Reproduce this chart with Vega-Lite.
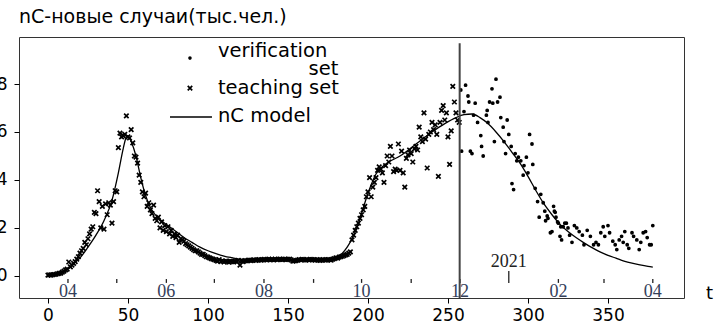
{
  "$schema": "https://vega.github.io/schema/vega-lite/v6.json",
  "autosize": {"type": "none"},
  "width": 665,
  "height": 261,
  "padding": {"left": 19, "top": 37, "right": 33, "bottom": 23},
  "background": "white",
  "config": {
    "view": {"stroke": "#333333", "strokeWidth": 1},
    "font": "DejaVu Sans",
    "axis": {"grid": false, "domain": false, "tickColor": "black", "tickSize": 5, "tickWidth": 1, "labelFont": "DejaVu Sans", "labelFontSize": 17, "labelColor": "black", "labelPadding": 4}
  },
  "title": {"text": "nC-новые случаи(тыс.чел.)", "anchor": "start", "frame": "group", "dx": 0, "dy": 16, "offset": 11, "fontSize": 19, "fontWeight": "normal", "font": "DejaVu Sans", "color": "black", "baseline": "alphabetic"},
  "datasets": {
    "obs": [
      {"t":0,"n":0.03,"set":"teaching set"},{"t":1,"n":0.04,"set":"teaching set"},{"t":2,"n":0.03,"set":"teaching set"},{"t":3,"n":0.05,"set":"teaching set"},{"t":4,"n":0.06,"set":"teaching set"},{"t":5,"n":0.07,"set":"teaching set"},{"t":6,"n":0.09,"set":"teaching set"},{"t":7,"n":0.11,"set":"teaching set"},{"t":8,"n":0.12,"set":"teaching set"},{"t":9,"n":0.16,"set":"teaching set"},
      {"t":10,"n":0.2,"set":"teaching set"},{"t":11,"n":0.25,"set":"teaching set"},{"t":12,"n":0.28,"set":"teaching set"},{"t":13,"n":0.58,"set":"teaching set"},{"t":14,"n":0.38,"set":"teaching set"},{"t":15,"n":0.45,"set":"teaching set"},{"t":16,"n":0.52,"set":"teaching set"},{"t":17,"n":0.6,"set":"teaching set"},{"t":18,"n":0.7,"set":"teaching set"},{"t":19,"n":0.8,"set":"teaching set"},
      {"t":20,"n":0.95,"set":"teaching set"},{"t":21,"n":1.05,"set":"teaching set"},{"t":22,"n":1.15,"set":"teaching set"},{"t":23,"n":1.4,"set":"teaching set"},{"t":24,"n":1.3,"set":"teaching set"},{"t":25,"n":1.55,"set":"teaching set"},{"t":26,"n":1.75,"set":"teaching set"},{"t":27,"n":1.95,"set":"teaching set"},{"t":28,"n":2.05,"set":"teaching set"},{"t":29,"n":2.65,"set":"teaching set"},
      {"t":30,"n":2.6,"set":"teaching set"},{"t":31,"n":3.55,"set":"teaching set"},{"t":32,"n":3.1,"set":"teaching set"},{"t":33,"n":2.0,"set":"teaching set"},{"t":34,"n":2.9,"set":"teaching set"},{"t":35,"n":1.95,"set":"teaching set"},{"t":36,"n":3.0,"set":"teaching set"},{"t":37,"n":2.55,"set":"teaching set"},{"t":38,"n":3.05,"set":"teaching set"},{"t":39,"n":2.95,"set":"teaching set"},
      {"t":40,"n":2.2,"set":"teaching set"},{"t":41,"n":3.1,"set":"teaching set"},{"t":42,"n":3.55,"set":"teaching set"},{"t":43,"n":3.5,"set":"teaching set"},{"t":44,"n":5.35,"set":"teaching set"},{"t":45,"n":5.95,"set":"teaching set"},{"t":46,"n":5.8,"set":"teaching set"},{"t":47,"n":5.85,"set":"teaching set"},{"t":48,"n":5.9,"set":"teaching set"},{"t":49,"n":6.67,"set":"teaching set"},
      {"t":50,"n":5.8,"set":"teaching set"},{"t":51,"n":5.75,"set":"teaching set"},{"t":52,"n":6.1,"set":"teaching set"},{"t":53,"n":5.55,"set":"teaching set"},{"t":54,"n":5.0,"set":"teaching set"},{"t":55,"n":4.95,"set":"teaching set"},{"t":56,"n":4.7,"set":"teaching set"},{"t":57,"n":4.2,"set":"teaching set"},{"t":58,"n":3.9,"set":"teaching set"},{"t":59,"n":3.5,"set":"teaching set"},
      {"t":60,"n":3.3,"set":"teaching set"},{"t":61,"n":3.45,"set":"teaching set"},{"t":62,"n":2.9,"set":"teaching set"},{"t":63,"n":3.05,"set":"teaching set"},{"t":64,"n":2.75,"set":"teaching set"},{"t":65,"n":2.6,"set":"teaching set"},{"t":66,"n":2.95,"set":"teaching set"},{"t":67,"n":2.4,"set":"teaching set"},{"t":68,"n":2.3,"set":"teaching set"},{"t":69,"n":2.45,"set":"teaching set"},
      {"t":70,"n":2.0,"set":"teaching set"},{"t":71,"n":2.25,"set":"teaching set"},{"t":72,"n":1.9,"set":"teaching set"},{"t":73,"n":2.1,"set":"teaching set"},{"t":74,"n":1.85,"set":"teaching set"},{"t":75,"n":2.05,"set":"teaching set"},{"t":76,"n":1.75,"set":"teaching set"},{"t":77,"n":1.9,"set":"teaching set"},{"t":78,"n":1.65,"set":"teaching set"},{"t":79,"n":1.75,"set":"teaching set"},
      {"t":80,"n":1.6,"set":"teaching set"},{"t":81,"n":1.7,"set":"teaching set"},{"t":82,"n":1.4,"set":"teaching set"},{"t":83,"n":1.55,"set":"teaching set"},{"t":84,"n":1.5,"set":"teaching set"},{"t":85,"n":1.45,"set":"teaching set"},{"t":86,"n":1.35,"set":"teaching set"},{"t":87,"n":1.3,"set":"teaching set"},{"t":88,"n":1.25,"set":"teaching set"},{"t":89,"n":1.2,"set":"teaching set"},
      {"t":90,"n":1.15,"set":"teaching set"},{"t":91,"n":1.1,"set":"teaching set"},{"t":92,"n":1.05,"set":"teaching set"},{"t":93,"n":1.05,"set":"teaching set"},{"t":94,"n":1.0,"set":"teaching set"},{"t":95,"n":0.95,"set":"teaching set"},{"t":96,"n":0.9,"set":"teaching set"},{"t":97,"n":0.9,"set":"teaching set"},{"t":98,"n":0.85,"set":"teaching set"},{"t":99,"n":0.8,"set":"teaching set"},
      {"t":100,"n":0.78,"set":"teaching set"},{"t":101,"n":0.75,"set":"teaching set"},{"t":102,"n":0.72,"set":"teaching set"},{"t":103,"n":0.7,"set":"teaching set"},{"t":104,"n":0.68,"set":"teaching set"},{"t":105,"n":0.65,"set":"teaching set"},{"t":106,"n":0.62,"set":"teaching set"},{"t":107,"n":0.68,"set":"teaching set"},{"t":108,"n":0.6,"set":"teaching set"},{"t":109,"n":0.63,"set":"teaching set"},
      {"t":110,"n":0.58,"set":"teaching set"},{"t":111,"n":0.62,"set":"teaching set"},{"t":112,"n":0.6,"set":"teaching set"},{"t":113,"n":0.57,"set":"teaching set"},{"t":114,"n":0.62,"set":"teaching set"},{"t":115,"n":0.6,"set":"teaching set"},{"t":116,"n":0.58,"set":"teaching set"},{"t":117,"n":0.62,"set":"teaching set"},{"t":118,"n":0.6,"set":"teaching set"},{"t":119,"n":0.65,"set":"teaching set"},
      {"t":120,"n":0.45,"set":"teaching set"},{"t":121,"n":0.62,"set":"teaching set"},{"t":122,"n":0.6,"set":"teaching set"},{"t":123,"n":0.64,"set":"teaching set"},{"t":124,"n":0.63,"set":"teaching set"},{"t":125,"n":0.65,"set":"teaching set"},{"t":126,"n":0.66,"set":"teaching set"},{"t":127,"n":0.64,"set":"teaching set"},{"t":128,"n":0.66,"set":"teaching set"},{"t":129,"n":0.67,"set":"teaching set"},
      {"t":130,"n":0.65,"set":"teaching set"},{"t":131,"n":0.67,"set":"teaching set"},{"t":132,"n":0.68,"set":"teaching set"},{"t":133,"n":0.66,"set":"teaching set"},{"t":134,"n":0.67,"set":"teaching set"},{"t":135,"n":0.69,"set":"teaching set"},{"t":136,"n":0.68,"set":"teaching set"},{"t":137,"n":0.67,"set":"teaching set"},{"t":138,"n":0.7,"set":"teaching set"},{"t":139,"n":0.68,"set":"teaching set"},
      {"t":140,"n":0.69,"set":"teaching set"},{"t":141,"n":0.67,"set":"teaching set"},{"t":142,"n":0.7,"set":"teaching set"},{"t":143,"n":0.68,"set":"teaching set"},{"t":144,"n":0.69,"set":"teaching set"},{"t":145,"n":0.7,"set":"teaching set"},{"t":146,"n":0.68,"set":"teaching set"},{"t":147,"n":0.69,"set":"teaching set"},{"t":148,"n":0.7,"set":"teaching set"},{"t":149,"n":0.68,"set":"teaching set"},
      {"t":150,"n":0.69,"set":"teaching set"},{"t":151,"n":0.7,"set":"teaching set"},{"t":152,"n":0.67,"set":"teaching set"},{"t":153,"n":0.62,"set":"teaching set"},{"t":154,"n":0.63,"set":"teaching set"},{"t":155,"n":0.64,"set":"teaching set"},{"t":156,"n":0.66,"set":"teaching set"},{"t":157,"n":0.68,"set":"teaching set"},{"t":158,"n":0.67,"set":"teaching set"},{"t":159,"n":0.69,"set":"teaching set"},
      {"t":160,"n":0.68,"set":"teaching set"},{"t":161,"n":0.66,"set":"teaching set"},{"t":162,"n":0.68,"set":"teaching set"},{"t":163,"n":0.67,"set":"teaching set"},{"t":164,"n":0.69,"set":"teaching set"},{"t":165,"n":0.68,"set":"teaching set"},{"t":166,"n":0.67,"set":"teaching set"},{"t":167,"n":0.66,"set":"teaching set"},{"t":168,"n":0.68,"set":"teaching set"},{"t":169,"n":0.67,"set":"teaching set"},
      {"t":170,"n":0.65,"set":"teaching set"},{"t":171,"n":0.66,"set":"teaching set"},{"t":172,"n":0.68,"set":"teaching set"},{"t":173,"n":0.67,"set":"teaching set"},{"t":174,"n":0.66,"set":"teaching set"},{"t":175,"n":0.68,"set":"teaching set"},{"t":176,"n":0.68,"set":"teaching set"},{"t":177,"n":0.66,"set":"teaching set"},{"t":178,"n":0.7,"set":"teaching set"},{"t":179,"n":0.72,"set":"teaching set"},
      {"t":180,"n":0.75,"set":"teaching set"},{"t":181,"n":0.74,"set":"teaching set"},{"t":182,"n":0.78,"set":"teaching set"},{"t":183,"n":0.8,"set":"teaching set"},{"t":184,"n":0.82,"set":"teaching set"},{"t":185,"n":0.85,"set":"teaching set"},{"t":186,"n":0.88,"set":"teaching set"},{"t":187,"n":0.9,"set":"teaching set"},{"t":188,"n":0.95,"set":"teaching set"},{"t":189,"n":1.0,"set":"teaching set"},
      {"t":190,"n":1.5,"set":"teaching set"},{"t":191,"n":1.7,"set":"teaching set"},{"t":192,"n":1.9,"set":"teaching set"},{"t":193,"n":2.05,"set":"teaching set"},{"t":194,"n":2.2,"set":"teaching set"},{"t":195,"n":2.4,"set":"teaching set"},{"t":196,"n":2.55,"set":"teaching set"},{"t":197,"n":2.75,"set":"teaching set"},{"t":198,"n":2.9,"set":"teaching set"},{"t":199,"n":3.3,"set":"teaching set"},
      {"t":200,"n":3.5,"set":"teaching set"},{"t":201,"n":4.1,"set":"teaching set"},{"t":202,"n":3.3,"set":"teaching set"},{"t":203,"n":3.7,"set":"teaching set"},{"t":204,"n":3.9,"set":"teaching set"},{"t":205,"n":4.1,"set":"teaching set"},{"t":206,"n":4.4,"set":"teaching set"},{"t":207,"n":4.55,"set":"teaching set"},{"t":208,"n":4.45,"set":"teaching set"},{"t":209,"n":4.3,"set":"teaching set"},
      {"t":210,"n":3.9,"set":"teaching set"},{"t":211,"n":4.6,"set":"teaching set"},{"t":212,"n":5.0,"set":"teaching set"},{"t":213,"n":4.75,"set":"teaching set"},{"t":214,"n":5.4,"set":"teaching set"},{"t":215,"n":5.0,"set":"teaching set"},{"t":216,"n":4.35,"set":"teaching set"},{"t":217,"n":4.45,"set":"teaching set"},{"t":218,"n":4.4,"set":"teaching set"},{"t":219,"n":5.5,"set":"teaching set"},
      {"t":220,"n":4.4,"set":"teaching set"},{"t":221,"n":5.2,"set":"teaching set"},{"t":222,"n":4.3,"set":"teaching set"},{"t":223,"n":3.7,"set":"teaching set"},{"t":224,"n":4.9,"set":"teaching set"},{"t":225,"n":5.05,"set":"teaching set"},{"t":226,"n":5.25,"set":"teaching set"},{"t":227,"n":5.1,"set":"teaching set"},{"t":228,"n":4.75,"set":"teaching set"},{"t":229,"n":5.3,"set":"teaching set"},
      {"t":230,"n":5.4,"set":"teaching set"},{"t":231,"n":5.25,"set":"teaching set"},{"t":232,"n":6.2,"set":"teaching set"},{"t":233,"n":5.8,"set":"teaching set"},{"t":234,"n":5.6,"set":"teaching set"},{"t":235,"n":6.8,"set":"teaching set"},{"t":236,"n":5.7,"set":"teaching set"},{"t":237,"n":4.5,"set":"teaching set"},{"t":238,"n":5.9,"set":"teaching set"},{"t":239,"n":6.0,"set":"teaching set"},
      {"t":240,"n":6.4,"set":"teaching set"},{"t":241,"n":6.1,"set":"teaching set"},{"t":242,"n":6.3,"set":"teaching set"},{"t":243,"n":5.9,"set":"teaching set"},{"t":244,"n":4.15,"set":"teaching set"},{"t":245,"n":6.4,"set":"teaching set"},{"t":246,"n":6.9,"set":"teaching set"},{"t":247,"n":7.1,"set":"teaching set"},{"t":248,"n":6.5,"set":"teaching set"},{"t":249,"n":6.8,"set":"teaching set"},
      {"t":250,"n":5.8,"set":"teaching set"},{"t":251,"n":4.65,"set":"teaching set"},{"t":252,"n":6.05,"set":"teaching set"},{"t":253,"n":7.9,"set":"teaching set"},{"t":254,"n":7.25,"set":"teaching set"},{"t":255,"n":6.8,"set":"teaching set"},{"t":256,"n":6.5,"set":"teaching set"},{"t":257,"n":6.4,"set":"teaching set"},
      {"t":258,"n":7.75,"set":"verification set"},{"t":258.5,"n":5.2,"set":"verification set"},{"t":260,"n":6.85,"set":"verification set"},{"t":261,"n":7.95,"set":"verification set"},{"t":262.5,"n":7.5,"set":"verification set"},{"t":263,"n":7.25,"set":"verification set"},{"t":264,"n":5.2,"set":"verification set"},{"t":265,"n":5.1,"set":"verification set"},{"t":266,"n":6.7,"set":"verification set"},{"t":267,"n":7.2,"set":"verification set"},
      {"t":268.5,"n":6.4,"set":"verification set"},{"t":270.5,"n":5.85,"set":"verification set"},{"t":271,"n":5.4,"set":"verification set"},{"t":272,"n":5.0,"set":"verification set"},{"t":274,"n":6.7,"set":"verification set"},{"t":274.5,"n":6.9,"set":"verification set"},{"t":275,"n":6.4,"set":"verification set"},{"t":276,"n":7.25,"set":"verification set"},{"t":277.5,"n":7.8,"set":"verification set"},{"t":278,"n":7.2,"set":"verification set"},
      {"t":279,"n":5.6,"set":"verification set"},{"t":280,"n":8.2,"set":"verification set"},{"t":281,"n":7.25,"set":"verification set"},{"t":282.5,"n":7.45,"set":"verification set"},{"t":283,"n":6.6,"set":"verification set"},{"t":284.5,"n":6.2,"set":"verification set"},{"t":285,"n":5.6,"set":"verification set"},{"t":286,"n":5.1,"set":"verification set"},{"t":287,"n":6.5,"set":"verification set"},{"t":288,"n":5.9,"set":"verification set"},
      {"t":289.5,"n":5.4,"set":"verification set"},{"t":290,"n":3.85,"set":"verification set"},{"t":291,"n":3.6,"set":"verification set"},{"t":292,"n":5.1,"set":"verification set"},{"t":293,"n":4.8,"set":"verification set"},{"t":294,"n":4.95,"set":"verification set"},{"t":295.5,"n":4.8,"set":"verification set"},{"t":297,"n":4.2,"set":"verification set"},{"t":297.5,"n":4.6,"set":"verification set"},{"t":299,"n":4.95,"set":"verification set"},
      {"t":300,"n":4.3,"set":"verification set"},{"t":301,"n":5.9,"set":"verification set"},{"t":302.5,"n":5.5,"set":"verification set"},{"t":303,"n":4.65,"set":"verification set"},{"t":304.5,"n":3.65,"set":"verification set"},{"t":306,"n":3.1,"set":"verification set"},{"t":307,"n":2.45,"set":"verification set"},{"t":308,"n":3.4,"set":"verification set"},{"t":309.5,"n":3.05,"set":"verification set"},{"t":310.5,"n":2.7,"set":"verification set"},
      {"t":311,"n":2.3,"set":"verification set"},{"t":312,"n":2.5,"set":"verification set"},{"t":312.5,"n":2.4,"set":"verification set"},{"t":314,"n":1.8,"set":"verification set"},{"t":315,"n":1.85,"set":"verification set"},{"t":316,"n":2.9,"set":"verification set"},{"t":316.5,"n":2.7,"set":"verification set"},{"t":317,"n":2.65,"set":"verification set"},{"t":317.5,"n":2.45,"set":"verification set"},{"t":318.5,"n":2.25,"set":"verification set"},
      {"t":319,"n":2.2,"set":"verification set"},{"t":320,"n":1.65,"set":"verification set"},{"t":320.5,"n":2.05,"set":"verification set"},{"t":321,"n":1.5,"set":"verification set"},{"t":322,"n":2.05,"set":"verification set"},{"t":323,"n":2.2,"set":"verification set"},{"t":324,"n":2.2,"set":"verification set"},{"t":325,"n":2.0,"set":"verification set"},{"t":326,"n":1.7,"set":"verification set"},{"t":327.5,"n":1.4,"set":"verification set"},
      {"t":329,"n":2.1,"set":"verification set"},{"t":330.5,"n":2.0,"set":"verification set"},{"t":332,"n":1.85,"set":"verification set"},{"t":334,"n":1.7,"set":"verification set"},{"t":335,"n":1.3,"set":"verification set"},{"t":337,"n":1.9,"set":"verification set"},{"t":339,"n":1.65,"set":"verification set"},{"t":341,"n":1.3,"set":"verification set"},{"t":342.5,"n":1.4,"set":"verification set"},{"t":344,"n":1.3,"set":"verification set"},
      {"t":345.5,"n":1.8,"set":"verification set"},{"t":347,"n":2.05,"set":"verification set"},{"t":348,"n":1.65,"set":"verification set"},{"t":350,"n":2.1,"set":"verification set"},{"t":351,"n":1.8,"set":"verification set"},{"t":353,"n":1.45,"set":"verification set"},{"t":354.5,"n":1.3,"set":"verification set"},{"t":355.5,"n":1.1,"set":"verification set"},{"t":357,"n":1.5,"set":"verification set"},{"t":358.5,"n":1.65,"set":"verification set"},
      {"t":359.5,"n":1.4,"set":"verification set"},{"t":360.5,"n":1.85,"set":"verification set"},{"t":362,"n":1.3,"set":"verification set"},{"t":363,"n":1.15,"set":"verification set"},{"t":365,"n":1.8,"set":"verification set"},{"t":366,"n":1.65,"set":"verification set"},{"t":368,"n":1.5,"set":"verification set"},{"t":369.5,"n":1.1,"set":"verification set"},{"t":370.5,"n":1.4,"set":"verification set"},{"t":372,"n":1.8,"set":"verification set"},
      {"t":373.5,"n":1.85,"set":"verification set"},{"t":374.5,"n":1.6,"set":"verification set"},{"t":376,"n":1.3,"set":"verification set"},{"t":377,"n":1.3,"set":"verification set"},{"t":378,"n":2.1,"set":"verification set"}
    ],
    "model": [
      {"t":0,"n":0.05},{"t":5,"n":0.08},{"t":10,"n":0.16},{"t":15,"n":0.45},{"t":20,"n":0.75},{"t":25,"n":1.2},{"t":30,"n":1.7},{"t":35,"n":2.3},{"t":40,"n":3.15},{"t":44,"n":4.3},{"t":47,"n":5.3},{"t":49,"n":5.8},{"t":50,"n":5.85},{"t":52,"n":5.6},{"t":55,"n":5.0},{"t":58,"n":4.1},{"t":61,"n":3.35},{"t":64,"n":2.85},{"t":70,"n":2.35},{"t":75,"n":2.1},{"t":80,"n":1.85},{"t":85,"n":1.6},{"t":90,"n":1.4},{"t":95,"n":1.2},{"t":100,"n":1.05},{"t":105,"n":0.93},{"t":110,"n":0.83},{"t":115,"n":0.76},{"t":120,"n":0.7},{"t":130,"n":0.66},{"t":140,"n":0.66},{"t":160,"n":0.67},{"t":175,"n":0.7},{"t":180,"n":0.78},{"t":184,"n":0.95},{"t":187,"n":1.2},{"t":190,"n":1.55},{"t":193,"n":2.0},{"t":196,"n":2.6},{"t":199,"n":3.25},{"t":202,"n":3.8},{"t":205,"n":4.25},{"t":209,"n":4.55},{"t":213,"n":4.75},{"t":220,"n":5.0},{"t":230,"n":5.5},{"t":240,"n":6.0},{"t":248,"n":6.35},{"t":255,"n":6.6},{"t":260,"n":6.72},{"t":265,"n":6.75},{"t":270,"n":6.6},{"t":275,"n":6.35},{"t":280,"n":6.0},{"t":285,"n":5.6},{"t":290,"n":5.15},{"t":295,"n":4.7},{"t":300,"n":4.15},{"t":305,"n":3.55},{"t":310,"n":3.0},{"t":315,"n":2.55},{"t":320,"n":2.15},{"t":325,"n":1.85},{"t":330,"n":1.6},{"t":335,"n":1.38},{"t":340,"n":1.18},{"t":345,"n":1.0},{"t":350,"n":0.86},{"t":355,"n":0.74},{"t":360,"n":0.62},{"t":365,"n":0.53},{"t":370,"n":0.46},{"t":375,"n":0.4},{"t":378,"n":0.37}
    ],
    "months": [
      {"t":12.5,"label":"04"},{"t":43,"label":""},{"t":74,"label":"06"},{"t":104,"label":""},{"t":135,"label":"08"},{"t":166,"label":""},{"t":196,"label":"10"},{"t":227,"label":""},{"t":257.5,"label":"12"},{"t":319,"label":"02"},{"t":347.5,"label":""},{"t":378,"label":"04"}
    ],
    "years": [{"t":288,"label":"2021"}],
    "legend": [{"label":"verification set"},{"label":"teaching set"},{"label":"nC model"}]
  },
  "layer": [
    {
      "data": {"name": "obs"},
      "mark": {"type": "point", "filled": true, "fill": "black", "stroke": "black", "strokeWidth": 1.7, "size": 36, "opacity": 1},
      "encoding": {
        "x": {"field": "t", "type": "quantitative", "scale": {"domain": [-18.1, 397.5], "nice": false, "zero": false},
              "axis": {"values": [0, 50, 100, 150, 200, 250, 300, 350], "title": "t", "titleX": 690, "titleY": 0, "titleAlign": "center", "titleBaseline": "alphabetic", "titleFontSize": 18, "titleFontWeight": "normal", "titleFont": "DejaVu Sans", "titleColor": "black", "titleAnchor": null}},
        "y": {"field": "n", "type": "quantitative", "scale": {"domain": [-0.92, 9.96], "nice": false, "zero": false},
              "axis": {"values": [0, 2, 4, 6, 8], "title": null, "labelPadding": 7}},
        "shape": {"field": "set", "type": "nominal",
                  "scale": {"domain": ["verification set", "teaching set"], "range": ["M-0.35,0A0.35,0.35,0,1,0,0.35,0A0.35,0.35,0,1,0,-0.35,0Z", "M-0.75,-0.75L0.75,0.75M-0.75,0.75L0.75,-0.75"]},
                  "legend": null}
      }
    },
    {
      "data": {"name": "model"},
      "mark": {"type": "line", "color": "black", "strokeWidth": 1.3, "interpolate": "monotone"},
      "encoding": {
        "x": {"field": "t", "type": "quantitative"},
        "y": {"field": "n", "type": "quantitative"}
      }
    },
    {
      "data": {"name": "months"},
      "mark": {"type": "rule", "color": "#222222", "strokeWidth": 1.3},
      "encoding": {
        "x": {"field": "t", "type": "quantitative"},
        "y": {"datum": -0.13},
        "y2": {"datum": -0.29}
      }
    },
    {
      "data": {"name": "months"},
      "mark": {"type": "text", "font": "Liberation Serif", "fontSize": 18, "color": "#34405a", "baseline": "alphabetic", "align": "center"},
      "encoding": {
        "x": {"field": "t", "type": "quantitative"},
        "y": {"datum": -0.88},
        "text": {"field": "label"}
      }
    },
    {
      "data": {"name": "years"},
      "mark": {"type": "rule", "color": "#222222", "strokeWidth": 1.3},
      "encoding": {
        "x": {"field": "t", "type": "quantitative"},
        "y": {"datum": 0.21},
        "y2": {"datum": -0.29}
      }
    },
    {
      "data": {"name": "years"},
      "mark": {"type": "text", "font": "Liberation Serif", "fontSize": 18, "color": "#222222", "baseline": "alphabetic", "align": "center"},
      "encoding": {
        "x": {"field": "t", "type": "quantitative"},
        "y": {"datum": 0.375},
        "text": {"field": "label"}
      }
    },
    {
      "data": {"values": [{"t": 257.3}]},
      "mark": {"type": "rule", "color": "#444444", "strokeWidth": 2},
      "encoding": {
        "x": {"field": "t", "type": "quantitative"},
        "y": {"datum": 9.7},
        "y2": {"datum": -0.92}
      }
    },
    {
      "data": {"name": "legend"},
      "transform": [{"filter": "datum.label == 'verification set'"}],
      "mark": {"type": "point", "shape": "M-0.35,0A0.35,0.35,0,1,0,0.35,0A0.35,0.35,0,1,0,-0.35,0Z", "filled": true, "fill": "black", "stroke": "black", "strokeWidth": 1.5, "size": 36, "opacity": 1},
      "encoding": {"x": {"datum": 88.75}, "y": {"datum": 9.08}}
    },
    {
      "data": {"name": "legend"},
      "transform": [{"filter": "datum.label == 'teaching set'"}],
      "mark": {"type": "point", "shape": "M-0.75,-0.75L0.75,0.75M-0.75,0.75L0.75,-0.75", "filled": true, "fill": "black", "stroke": "black", "strokeWidth": 1.7, "size": 36, "opacity": 1},
      "encoding": {"x": {"datum": 88.75}, "y": {"datum": 7.83}}
    },
    {
      "data": {"name": "legend"},
      "transform": [{"filter": "datum.label == 'nC model'"}],
      "mark": {"type": "rule", "color": "black", "strokeWidth": 1.3},
      "encoding": {"x": {"datum": 76.25}, "x2": {"datum": 102.5}, "y": {"datum": 6.625}}
    },
    {
      "data": {"name": "legend"},
      "transform": [{"filter": "datum.label == 'verification set'"}],
      "mark": {"type": "text", "font": "DejaVu Sans", "fontSize": 19.5, "color": "black", "align": "left", "baseline": "middle"},
      "encoding": {"x": {"datum": 106.25}, "y": {"datum": 9.36}, "text": {"value": "verification"}}
    },
    {
      "data": {"name": "legend"},
      "transform": [{"filter": "datum.label == 'verification set'"}],
      "mark": {"type": "text", "font": "DejaVu Sans", "fontSize": 19.5, "color": "black", "align": "right", "baseline": "middle"},
      "encoding": {"x": {"datum": 181.5}, "y": {"datum": 8.63}, "text": {"value": "set"}}
    },
    {
      "data": {"name": "legend"},
      "transform": [{"filter": "datum.label == 'teaching set'"}],
      "mark": {"type": "text", "font": "DejaVu Sans", "fontSize": 19.5, "color": "black", "align": "left", "baseline": "middle"},
      "encoding": {"x": {"datum": 106.25}, "y": {"datum": 7.83}, "text": {"field": "label"}}
    },
    {
      "data": {"name": "legend"},
      "transform": [{"filter": "datum.label == 'nC model'"}],
      "mark": {"type": "text", "font": "DejaVu Sans", "fontSize": 19.5, "color": "black", "align": "left", "baseline": "middle"},
      "encoding": {"x": {"datum": 106.25}, "y": {"datum": 6.67}, "text": {"field": "label"}}
    }
  ]
}
